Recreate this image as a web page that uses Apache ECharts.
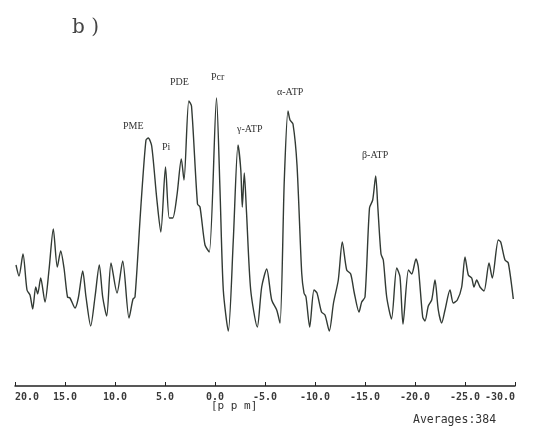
<!DOCTYPE html>
<html>
<head>
<meta charset="utf-8">
<script src="https://cdn.jsdelivr.net/npm/echarts@6/dist/echarts.min.js"></script>
<style>
html,body{margin:0;padding:0;background:#fff;}
#c{width:535px;height:426px;}
</style>
</head>
<body>
<div id="c"></div>
<script>
// Chemical shift (ppm) of each sampled point
var ppm = [19.9,19.6,19.2,18.8,18.5,18.23,17.93,17.73,17.43,17.0,16.6,16.17,15.77,15.43,15.1,14.75,14.5,14.0,13.67,13.23,12.9,12.43,12.0,11.57,11.23,10.83,10.4,9.8,9.23,8.6,8.2,8.0,7.5,7.3,6.9,6.67,6.33,5.83,5.42,4.95,4.57,4.23,3.8,3.37,3.1,2.62,2.35,1.75,1.5,1.0,0.57,-0.15,-0.5,-0.83,-1.33,-1.83,-2.3,-2.58,-2.73,-2.93,-3.15,-3.57,-4.23,-4.67,-5.17,-5.67,-6.17,-6.5,-6.93,-7.3,-7.5,-7.8,-8.2,-8.67,-8.9,-9.1,-9.47,-9.9,-10.2,-10.65,-11.0,-11.43,-11.85,-12.33,-12.73,-13.17,-13.57,-13.93,-14.4,-14.67,-15.0,-15.45,-15.77,-16.07,-16.27,-16.6,-16.83,-17.17,-17.65,-18.17,-18.5,-18.8,-19.35,-19.67,-20.1,-20.33,-20.77,-21.0,-21.33,-21.67,-22.0,-22.33,-22.67,-23.0,-23.5,-23.83,-24.23,-24.67,-25.0,-25.33,-25.67,-25.9,-26.17,-26.5,-26.9,-27.4,-27.73,-28.33,-28.57,-29.0,-29.33,-29.83];
// Signal intensity (arbitrary units)
var intensity = [121,110,132,96,91,77,99,92,108,84,116,157,119,135,118,89,88,78,88,115,89,60,89,121,89,70,123,93,125,68,87,89,166,196,246,248,240,188,154,219,168,168,191,227,206,285,280,182,179,141,134,288,196,96,55,146,241,216,179,213,174,96,59,99,117,86,76,63,206,275,266,262,221,113,93,89,59,96,93,74,71,55,83,106,144,116,112,93,74,84,89,178,186,210,181,132,126,89,67,118,109,62,116,112,127,119,69,65,80,86,106,76,63,76,96,83,86,99,129,111,108,99,106,99,95,123,108,146,144,126,123,87];
// Peak annotations
var peakNames = ["PME","Pi","PDE","Pcr","\u03b3-ATP","\u03b1-ATP","\u03b2-ATP"];
var xTickValues = [20,15,10,5,0,-5,-10,-15,-20,-25,-30];

var data = ppm.map(function(p,i){return [p,intensity[i]];});
var chart = echarts.init(document.getElementById('c'));
var peakPos = [[123,121],[162,142],[170,77],[211,72],[237,124],[277,87],[362,150]];
var graphics = peakNames.map(function(n,i){
  return {type:'text',left:peakPos[i][0],top:peakPos[i][1],
    style:{text:n,fontFamily:'Liberation Serif',fontSize:10,fill:'#333'}};
});
graphics.push({type:'text',left:72,top:18,style:{text:'b )',fontFamily:'DejaVu Serif',fontSize:20,fill:'#444'}});
graphics.push({type:'text',left:211,top:401,style:{text:'[p p m]',fontFamily:'DejaVu Sans Mono',fontSize:11,fill:'#333'}});
graphics.push({type:'text',left:413,top:414,style:{text:'Averages:384',fontFamily:'DejaVu Sans Mono',fontSize:11.5,fill:'#333'}});
chart.setOption({
  animation:false,
  grid:{left:15,right:20,top:86,bottom:40},
  xAxis:{type:'value',inverse:true,min:-30,max:20,interval:5,
    axisLine:{lineStyle:{color:'#222',width:1.5}},
    axisTick:{inside:true,length:4,lineStyle:{color:'#222'}},
    splitLine:{show:false},
    axisLabel:{fontFamily:'DejaVu Sans Mono',fontSize:10,fontWeight:'bold',color:'#3a3a3a',margin:6,
      alignMinLabel:'right',alignMaxLabel:'left',
      formatter:function(v){return v.toFixed(1);}}
  },
  yAxis:{type:'value',min:0,max:300,show:false},
  graphic:graphics,
  series:[{type:'line',data:data,showSymbol:false,smooth:0.25,
    lineStyle:{color:'#323a34',width:1.4}}]
});
</script>
</body>
</html>
